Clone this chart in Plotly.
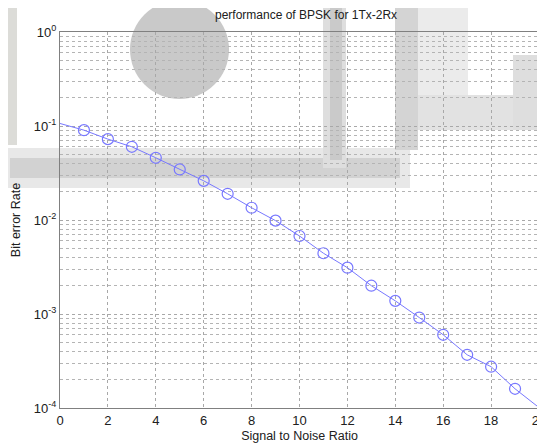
import plotly.graph_objects as go

snr = [0, 1, 2, 3, 4, 5, 6, 7, 8, 9, 10, 11, 12, 13, 14, 15, 16, 17, 18, 19, 20]
ber = [0.1064, 0.0903, 0.0725, 0.0601, 0.0459, 0.0345, 0.0261, 0.0190, 0.0135,
       0.00984, 0.00676, 0.00443, 0.00311, 0.00200, 0.00138, 0.000917,
       0.000601, 0.000368, 0.000275, 0.000160, 0.000101]

x_ticks = [0, 2, 4, 6, 8, 10, 12, 14, 16, 18, 20]
y_ticks = [1e-4, 1e-3, 1e-2, 1e-1, 1e0]
y_tick_text = ["10<sup>-4</sup>", "10<sup>-3</sup>", "10<sup>-2</sup>",
               "10<sup>-1</sup>", "10<sup>0</sup>"]

# the page body has an 8px margin, so the figure is made 8px smaller
OFF = 8
W, H = 545 - OFF, 446 - OFF
L, R, T, B = 52, 6, 24, 38
pw, ph = W - L - R, H - T - B


def px_shape(x0, y0, x1, y1, color, kind="rect"):
    # watermark blobs, given in window pixels
    return dict(type=kind, xref="paper", yref="paper", layer="below",
                x0=(x0 - OFF - L) / pw, x1=(x1 - OFF - L) / pw,
                y0=(H - B - (y1 - OFF)) / ph, y1=(H - B - (y0 - OFF)) / ph,
                fillcolor=color, line=dict(width=0))


shapes = [
    px_shape(8, 0, 17, 145, "#dcdcd8"),
    px_shape(0, 148, 410, 188, "#e8e8e8"),
    px_shape(10, 158, 400, 178, "#d2d2d2"),
    px_shape(323, 0, 346, 168, "#dedede"),
    px_shape(330, 0, 342, 160, "#cacaca"),
    px_shape(395, 0, 418, 150, "#d4d4d4"),
    px_shape(418, 0, 468, 95, "#ebebeb"),
    px_shape(418, 95, 545, 130, "#e2e2e2"),
    px_shape(513, 55, 540, 130, "#dedede"),
    px_shape(130, 0, 229, 99, "#c9c9c9", "circle"),
]

fig = go.Figure()
fig.add_trace(go.Scatter(x=snr, y=ber, mode="lines",
                         line=dict(color="#7878ff", width=1), showlegend=False))
fig.add_trace(go.Scatter(x=snr[1:-1], y=ber[1:-1], mode="markers",
                         marker=dict(symbol="circle-open", size=11, color="#7878ff",
                                     line=dict(width=1.2)),
                         showlegend=False))

grid = dict(gridcolor="#a8a8a8", griddash="dot", gridwidth=1)
fig.update_xaxes(range=[0, 20], tickvals=x_ticks, showline=True, linecolor="#808080",
                 mirror=True, zeroline=False, ticks="", automargin=False,
                 ticklabeloverflow="allow", **grid,
                 title=dict(text="Signal to Noise Ratio", standoff=4,
                            font=dict(size=12.5)))
fig.update_yaxes(type="log", range=[-4, 0], tickvals=y_ticks, ticktext=y_tick_text,
                 showline=True, linecolor="#808080", mirror=True, ticks="",
                 zeroline=False, automargin=False, ticklabeloverflow="allow", **grid,
                 minor=dict(showgrid=True, dtick="D1", gridcolor="#b4b4b4",
                            griddash="dot", gridwidth=1),
                 title=dict(text="Bit error Rate", standoff=10, font=dict(size=12.5)))

fig.update_layout(
    width=W, height=H,
    margin=dict(l=L, r=R, t=T, b=B),
    paper_bgcolor="white",
    plot_bgcolor="rgba(0,0,0,0)",
    font=dict(family="Liberation Sans, Arial", size=13, color="#202020"),
    title=dict(text="performance of BPSK for 1Tx-2Rx", x=0.555, xanchor="center",
               y=1 - 7 / H, yanchor="middle", font=dict(size=12)),
    shapes=shapes,
)

fig.write_html("out.html")
